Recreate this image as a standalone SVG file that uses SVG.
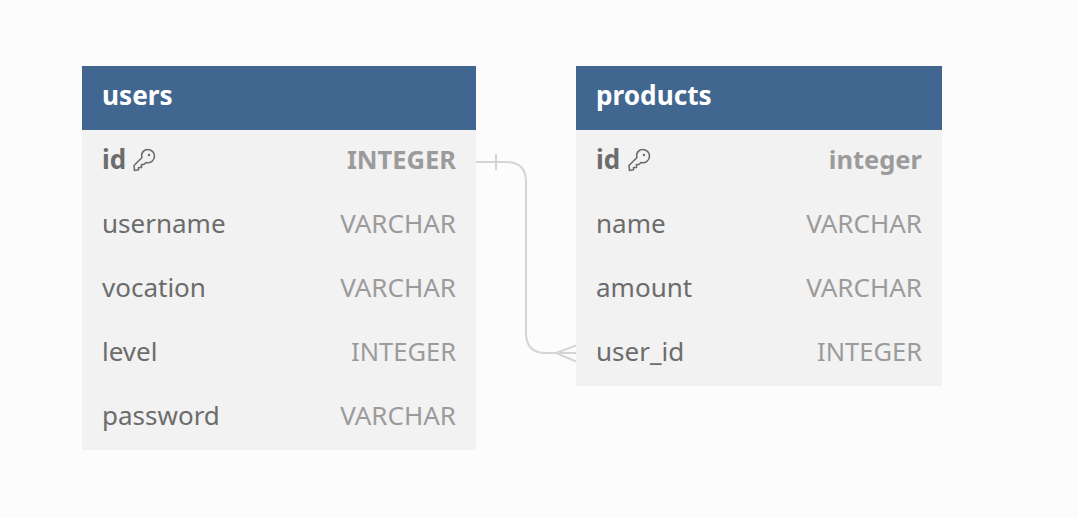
<svg xmlns="http://www.w3.org/2000/svg" width="1078" height="518" viewBox="0 0 1078 518">
<style>
text{font-family:"Noto Sans","Open Sans",sans-serif;font-size:26px}
.h{fill:#416791}.b{fill:#f2f2f2}
.t{fill:#fff;font-weight:700;font-size:26.200px}
.n{fill:#6c6c6c}.k{font-weight:700}
.d{fill:#9b9b9b;text-anchor:end}
.i{font-size:25.500px}
.c{fill:none;stroke:#d5d5d5;stroke-width:2}
.key{fill:none;stroke:#6c6c6c;stroke-width:1.6;stroke-linejoin:round}
</style>
<defs>
<g id="keyicon"><path class="key" d="M-9.500 10.500 L-10 5.500 L-2 -2.500 C-3.500 -7.500 0.500 -10.500 3.500 -10.500 C7.500 -10.500 10.500 -7.500 10.500 -4 C10.500 0.500 6.500 3.500 2 2.500 L0 4.500 L-2.500 4.500 L-2.500 7.500 L-5.500 7.500 L-5.500 9.800 Z"/><circle cx="5" cy="-5" r="1.200" fill="#6c6c6c"/></g>
</defs>
<rect width="1078" height="518" fill="#fcfcfc"/>
<g id="connectors">
<path class="c" d="M476 162 H506 Q526 162 526 182 V333 Q526 353 546 353 H576"/>
<path class="c" d="M496 154 V170 M556 353 L576 345.500 M556 353 L576 361.500"/>
</g>
<g id="users">
<rect class="b" x="82" y="130" width="394" height="320"/>
<rect class="h" x="82" y="66" width="394" height="64"/>
<text class="t" x="102" y="105">users</text>
<text class="n k" x="102" y="169">id</text><use href="#keyicon" x="144" y="160"/>
<text class="d k i" x="456" y="169">INTEGER</text>
<text class="n" x="102" y="233">username</text><text class="d" x="456" y="233">VARCHAR</text>
<text class="n" x="102" y="297">vocation</text><text class="d" x="456" y="297">VARCHAR</text>
<text class="n" x="102" y="361">level</text><text class="d i" x="456" y="361">INTEGER</text>
<text class="n" x="102" y="425">password</text><text class="d" x="456" y="425">VARCHAR</text>
</g>
<g id="products">
<rect class="b" x="576" y="130" width="366" height="256"/>
<rect class="h" x="576" y="66" width="366" height="64"/>
<text class="t" x="596" y="105">products</text>
<text class="n k" x="596" y="169">id</text><use href="#keyicon" x="639" y="160"/>
<text class="d k i" x="922" y="169">integer</text>
<text class="n" x="596" y="233">name</text><text class="d" x="922" y="233">VARCHAR</text>
<text class="n" x="596" y="297">amount</text><text class="d" x="922" y="297">VARCHAR</text>
<text class="n" x="596" y="361">user_id</text><text class="d i" x="922" y="361">INTEGER</text>
</g>
</svg>
